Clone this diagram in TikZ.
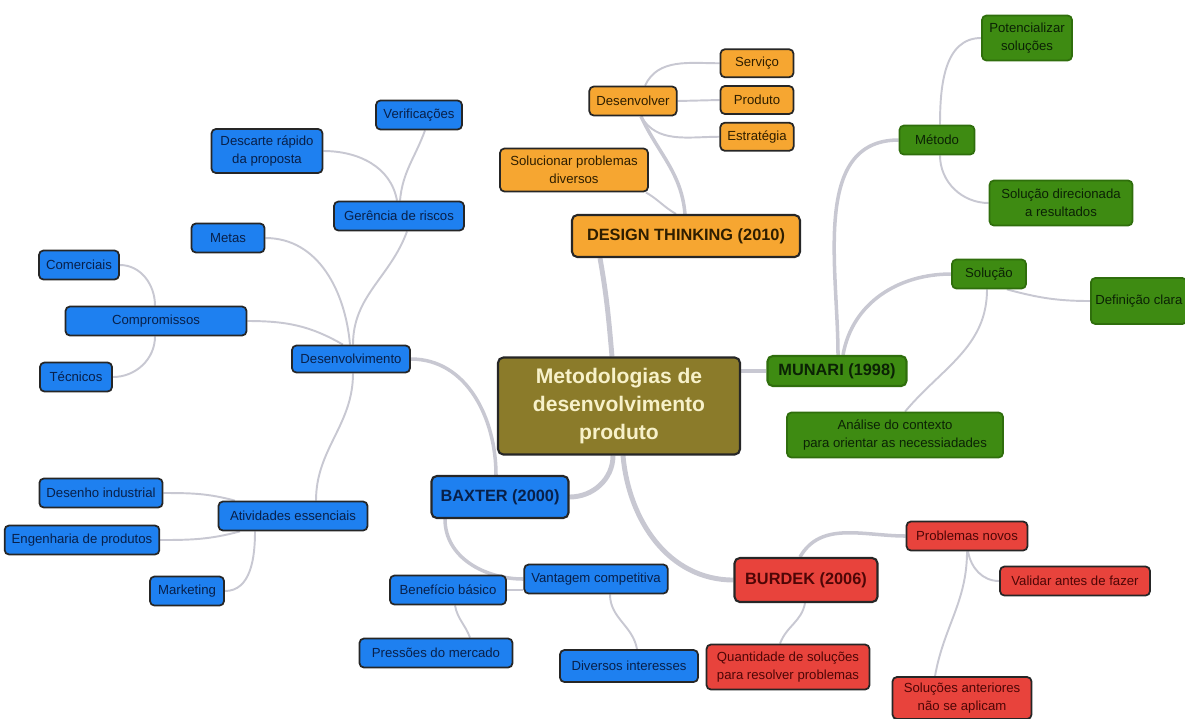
\documentclass[tikz,border=0pt]{standalone}
\usepackage{fontspec}
\setmainfont{Liberation Sans}
\usepackage{tikz}
\usetikzlibrary{calc,positioning,backgrounds}
\definecolor{olivebox}{HTML}{8B7B2A}
\definecolor{olivetext}{HTML}{F7F1C9}
\definecolor{dtfill}{HTML}{F6A631}
\definecolor{dttext}{HTML}{2E1E00}
\definecolor{munfill}{HTML}{3E8B12}
\definecolor{munedge}{HTML}{2F6E0C}
\definecolor{muntext}{HTML}{0B2205}
\definecolor{baxfill}{HTML}{1E80F0}
\definecolor{baxtext}{HTML}{08204A}
\definecolor{burfill}{HTML}{E8433C}
\definecolor{burtext}{HTML}{4E0606}
\definecolor{linkgray}{HTML}{C8C8D2}
\tikzset{
        box/.style = {draw=black!85, line width=1pt, rounded corners=2.5pt,
            align=center, inner xsep=4pt, inner ysep=2pt,
            minimum height=0.58cm,
            font=\fontsize{7.5}{10.5}\selectfont},
        theme/.style = {line width=1.2pt, rounded corners=3pt,
            minimum height=0.84cm,
            font=\fontsize{9.3}{11}\selectfont\bfseries},
        rootbox/.style = {box, theme, fill=olivebox, text=olivetext,
            minimum width=4.84cm, minimum height=1.94cm,
            font=\fontsize{12}{16}\selectfont\bfseries},
        dtleaf/.style = {box, fill=dtfill, text=dttext},
        munleaf/.style = {box, fill=munfill, draw=munedge, text=muntext},
        baxleaf/.style = {box, fill=baxfill, text=baxtext},
        burleaf/.style = {box, fill=burfill, text=burtext},
        trunk/.style = {draw=linkgray, line width=2.8pt},
        limb/.style = {draw=linkgray, line width=2pt},
        twig/.style = {draw=linkgray, line width=1.1pt},
    }
\begin{document}
\begin{tikzpicture}[x=0.02cm, y=-0.02cm]
        \useasboundingbox (0,0) rectangle (1185,718);

        \node[rootbox] (root) at (619,406) {Metodologias de\\desenvolvimento\\produto};

        \node[dtleaf, theme, minimum width=4.56cm] (dt) at (686,236) {DESIGN THINKING (2010)};
        \node[dtleaf, minimum width=1.74cm] (desv) at (633,101) {Desenvolver};
        \node[dtleaf, minimum width=1.46cm, minimum height=0.56cm] (prod) at (757,100) {Produto};
        \node[dtleaf, minimum width=1.46cm, minimum height=0.56cm, above=0.14cm of prod] (serv) {Serviço};
        \node[dtleaf, minimum width=1.46cm, minimum height=0.56cm, below=0.14cm of prod] (estr) {Estratégia};
        \node[dtleaf, minimum width=2.96cm, minimum height=0.86cm] (soluc) at (574,170) {Solucionar problemas\\diversos};

        \node[munleaf, theme, minimum width=2.78cm, minimum height=0.6cm] (munari) at (837,371) {MUNARI (1998)};
        \node[munleaf, minimum width=1.5cm] (metodo) at (937,140) {Método};
        \node[munleaf, minimum width=1.8cm, minimum height=0.9cm] (poten) at (1027,38) {Potencializar\\soluções};
        \node[munleaf, minimum width=2.86cm, minimum height=0.9cm] (soldir) at (1061,203) {Solução direcionada\\a resultados};
        \node[munleaf, minimum width=1.48cm] (solucao) at (989,274) {Solução};
        \node[munleaf, minimum height=0.92cm, inner xsep=2.5pt, anchor=west] (defin) at (1090,301) {Definição clara};
        \node[munleaf, minimum width=4.32cm, minimum height=0.9cm] (analise) at (895,435) {Análise do contexto\\para orientar as necessiadades};

        \node[baxleaf, theme, minimum width=2.74cm] (baxter) at (500,497) {BAXTER (2000)};
        \node[baxleaf, minimum width=2.36cm, minimum height=0.54cm] (desenv) at (351,359) {Desenvolvimento};
        \node[baxleaf, minimum width=2.6cm] (geren) at (399,216) {Gerência de riscos};
        \node[baxleaf, minimum width=1.72cm] (verif) at (419,115) {Verificações};
        \node[baxleaf, minimum width=2.22cm, minimum height=0.88cm] (descarte) at (267,151) {Descarte rápido\\da proposta};
        \node[baxleaf, minimum width=1.46cm] (metas) at (228,238) {Metas};
        \node[baxleaf, minimum width=3.62cm] (compr) at (156,321) {Compromissos};
        \node[baxleaf, minimum width=1.58cm] (comerc) at (79,265) {Comerciais};
        \node[baxleaf, minimum width=1.44cm] (tecn) at (76,377) {Técnicos};
        \node[baxleaf, minimum width=2.98cm] (ativ) at (293,516) {Atividades essenciais};
        \node[baxleaf, minimum width=2.12cm] (desenho) at (101,493) {Desenho industrial};
        \node[baxleaf, minimum width=2.88cm] (engen) at (82,540) {Engenharia de produtos};
        \node[baxleaf, minimum width=1.48cm] (market) at (187,591) {Marketing};
        \node[baxleaf, minimum width=2.52cm] (vantag) at (596,579) {Vantagem competitiva};
        \node[baxleaf, minimum width=2.32cm] (benef) at (448,590) {Benefício básico};
        \node[baxleaf, minimum width=3.06cm] (pressoes) at (436,653) {Pressões do mercado};
        \node[baxleaf, minimum width=2.76cm, minimum height=0.64cm] (divers) at (629,666) {Diversos interesses};

        \node[burleaf, theme, minimum width=2.86cm, minimum height=0.88cm] (burdek) at (806,580) {BURDEK (2006)};
        \node[burleaf, minimum width=2.42cm] (probl) at (967,536) {Problemas novos};
        \node[burleaf, minimum width=3cm] (valid) at (1075,581) {Validar antes de fazer};
        \node[burleaf, minimum width=3.26cm, minimum height=0.9cm] (quant) at (788,667) {Quantidade de soluções\\para resolver problemas};
        \node[burleaf, minimum width=2.78cm, minimum height=0.84cm] (solant) at (962,698) {Soluções anteriores\\não se aplicam};

        \begin{scope}[on background layer]
        \draw[trunk] ($(root.north)+(-7,0)$) to[out=95,in=-80] ($(dt.south)+(-86,0)$);
        \draw[trunk] (munari.west -| root.east) -- (munari.west);
        \draw[trunk] ($(root.south)+(-6,0)$) to[out=-90,in=0] (baxter.east);
        \draw[trunk] ($(root.south)+(4,0)$) to[out=-85,in=180] (burdek.west);

        \draw[limb] ($(dt.north)+(-1,0)$) to[out=95,in=-65] ($(desv.south)+(8,0)$);
        \draw[twig] ($(soluc.south east)+(-3,0)$) to[out=-30,in=150] ($(dt.north)+(-10,0)$);
        \draw[twig] ($(desv.north)+(12,0)$) to[out=65,in=180] (serv.west);
        \draw[twig] (desv.east) -- (prod.west);
        \draw[twig] ($(desv.south)+(8,0)$) to[out=-60,in=180] (estr.west);

        \draw[limb] ($(munari.north)+(1,0)$) to[out=90,in=180] (metodo.west);
        \draw[limb] ($(munari.north)+(6,0)$) to[out=80,in=180] (solucao.west);
        \draw[twig] ($(metodo.north)+(3,0)$) to[out=90,in=180] (poten.west);
        \draw[twig] ($(metodo.south)+(3,0)$) to[out=-90,in=180] (soldir.west);
        \draw[twig] ($(solucao.south east)+(-20,0)$) to[out=-15,in=180] (defin.west);
        \draw[twig] ($(solucao.south)+(-2,0)$) to[out=-90,in=50] ($(analise.north)+(10,0)$);

        \draw[limb] (desenv.east) to[out=0,in=90] ($(baxter.north)+(-4,0)$);
        \draw[limb] ($(baxter.south)+(-55,0)$) to[out=-90,in=180] (vantag.west);
        \draw[twig] ($(desenv.north)+(2,0)$) to[out=90,in=-110] ($(geren.south)+(8,0)$);
        \draw[twig] ($(geren.north)+(1,0)$) to[out=85,in=-110] ($(verif.south)+(6,0)$);
        \draw[twig] ($(geren.north)+(-2,0)$) to[out=100,in=0] (descarte.east);
        \draw[twig] ($(desenv.north)+(-1,0)$) to[out=95,in=0] (metas.east);
        \draw[twig] ($(desenv.north)+(-8,0)$) to[out=150,in=0] (compr.east);
        \draw[twig] ($(compr.north)+(-1,0)$) to[out=90,in=0] (comerc.east);
        \draw[twig] ($(compr.south)+(-1,0)$) to[out=-90,in=0] (tecn.east);
        \draw[twig] ($(desenv.south)+(2,0)$) to[out=-90,in=90] ($(ativ.north)+(23,0)$);
        \draw[twig] (desenho.east) to[out=0,in=165] ($(ativ.north)+(-58,0)$);
        \draw[twig] (engen.east) to[out=0,in=195] ($(ativ.south)+(-53,0)$);
        \draw[twig] ($(ativ.south)+(-38,0)$) to[out=-90,in=0] (market.east);
        \draw[twig] (benef.east) -- (benef.east -| vantag.west);
        \draw[twig] ($(benef.south)+(7,0)$) to[out=-80,in=110] ($(pressoes.north)+(34,0)$);
        \draw[twig] ($(vantag.south)+(14,0)$) to[out=-90,in=100] ($(divers.north)+(8,0)$);

        \draw[limb] ($(burdek.north)+(-6,0)$) to[out=60,in=180] (probl.west);
        \draw[twig] ($(burdek.south)+(-1,0)$) to[out=-100,in=70] ($(quant.north)+(-8,0)$);
        \draw[twig] ($(probl.south)+(1,0)$) to[out=-80,in=180] (valid.west);
        \draw[twig] ($(probl.south)+(0,0)$) to[out=-90,in=80] ($(solant.north)+(-27,0)$);
        \end{scope}
\end{tikzpicture}
\end{document}
